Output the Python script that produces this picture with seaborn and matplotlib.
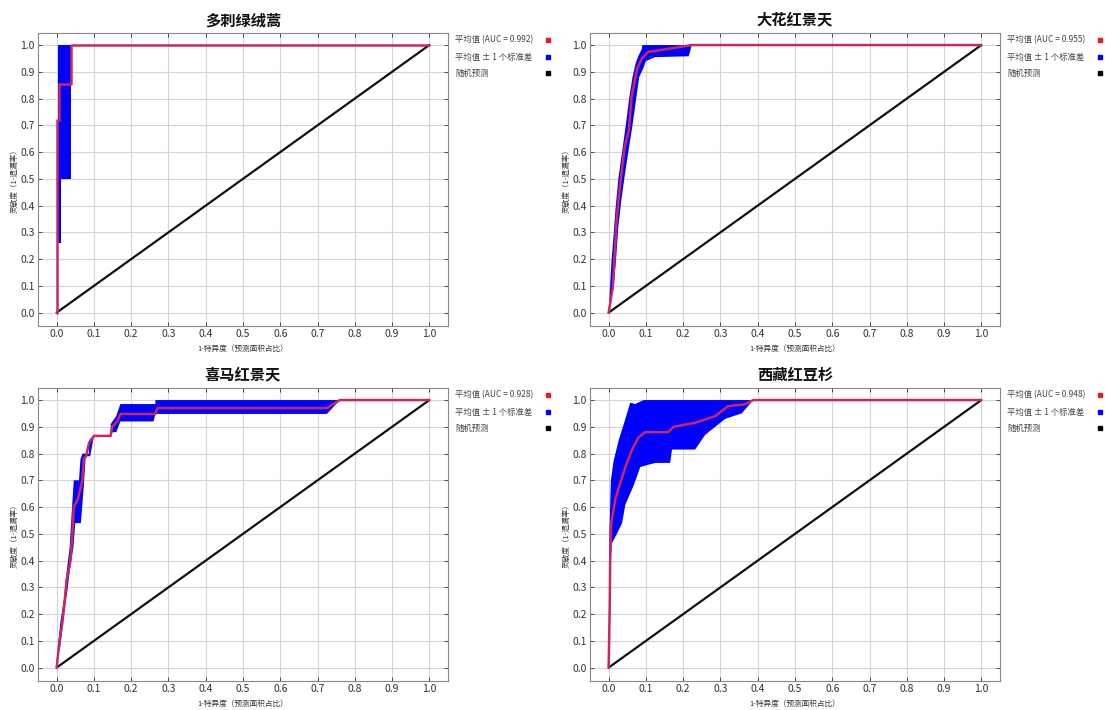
import numpy as np
import matplotlib
matplotlib.use("Agg")
import matplotlib.pyplot as plt
import seaborn as sns

sns.set_theme(style="whitegrid")
plt.rcParams['font.family'] = ['Noto Sans CJK SC', 'DejaVu Sans']
plt.rcParams['axes.unicode_minus'] = False

titles = ["多刺绿绒蒿", "大花红景天", "喜马红景天", "西藏红豆杉"]
aucs = ["0.992", "0.955", "0.928", "0.948"]
xlabel = "1-特异度（预测面积占比）"
ylabel = "灵敏度（1-遗漏率）"
legend_mean = "平均值 (AUC = {})"
legend_std = "平均值 ± 1 个标准差"
legend_rand = "随机预测"
ticks = [0.0, 0.1, 0.2, 0.3, 0.4, 0.5, 0.6, 0.7, 0.8, 0.9, 1.0]
tick_labels = ["0.0", "0.1", "0.2", "0.3", "0.4", "0.5", "0.6", "0.7", "0.8", "0.9", "1.0"]

# Panel 1: 多刺绿绒蒿
mean1_x = [0.0, 0.0, 0.005, 0.005, 0.038, 0.038, 1.0]
mean1_y = [0.0, 0.72, 0.72, 0.855, 0.855, 1.0, 1.0]
up1_x = [0.003, 0.003, 0.038]
up1_y = [0.26, 1.0, 1.0]
lo1_x = [0.038, 0.012, 0.012, 0.003]
lo1_y = [0.5, 0.5, 0.26, 0.26]

# Panel 2: 大花红景天
mean2_x = [0.0, 0.011, 0.022, 0.031, 0.043, 0.054, 0.062, 0.076, 0.089, 0.107, 0.134, 0.223, 1.0]
mean2_y = [0.0, 0.094, 0.356, 0.48, 0.62, 0.68, 0.81, 0.91, 0.95, 0.975, 0.98, 1.0, 1.0]
up2_x = [0.0, 0.004, 0.008, 0.014, 0.018, 0.026, 0.036, 0.046, 0.055, 0.064, 0.072, 0.08, 0.089, 0.09, 0.223]
up2_y = [0.0, 0.1, 0.2, 0.3, 0.38, 0.5, 0.6, 0.7, 0.8, 0.88, 0.93, 0.96, 0.985, 1.0, 1.0]
lo2_x = [0.223, 0.215, 0.13, 0.125, 0.1, 0.092, 0.082, 0.074, 0.064, 0.055, 0.044, 0.034, 0.026, 0.02, 0.014, 0.0]
lo2_y = [1.0, 0.958, 0.955, 0.955, 0.94, 0.91, 0.88, 0.8, 0.7, 0.62, 0.52, 0.42, 0.32, 0.2, 0.1, 0.0]

# Panel 3: 喜马红景天
mean3_x = [0.0, 0.006, 0.015, 0.021, 0.027, 0.036, 0.042, 0.046, 0.057, 0.069, 0.073, 0.079, 0.087,
           0.1, 0.145, 0.149, 0.163, 0.171, 0.265, 0.27, 0.725, 0.76, 1.0]
mean3_y = [0.0, 0.08, 0.166, 0.24, 0.33, 0.39, 0.49, 0.6, 0.63, 0.7, 0.78, 0.79, 0.84,
           0.866, 0.866, 0.9, 0.92, 0.948, 0.948, 0.97, 0.97, 1.0, 1.0]
up3_x = [0.0, 0.005, 0.01, 0.02, 0.027, 0.035, 0.04, 0.046, 0.06, 0.064, 0.07, 0.087, 0.087, 0.1,
         0.145, 0.145, 0.16, 0.171, 0.265, 0.265, 0.76]
up3_y = [0.0, 0.1, 0.17, 0.26, 0.36, 0.45, 0.57, 0.7, 0.7, 0.78, 0.8, 0.8, 0.85, 0.866,
         0.866, 0.91, 0.94, 0.985, 0.985, 1.0, 1.0]
lo3_x = [0.76, 0.725, 0.265, 0.26, 0.171, 0.16, 0.15, 0.145, 0.1, 0.09, 0.078, 0.073, 0.065, 0.05,
         0.045, 0.035, 0.03, 0.02, 0.01, 0.005, 0.0]
lo3_y = [1.0, 0.948, 0.948, 0.92, 0.92, 0.88, 0.88, 0.866, 0.866, 0.79, 0.79, 0.68, 0.54, 0.54,
         0.45, 0.36, 0.3, 0.2, 0.08, 0.05, 0.0]

# Panel 4: 西藏红豆杉
mean4_x = [0.0, 0.003, 0.004, 0.007, 0.018, 0.031, 0.045, 0.063, 0.08, 0.098, 0.16, 0.174,
           0.232, 0.286, 0.32, 0.366, 0.388, 1.0]
mean4_y = [0.0, 0.23, 0.39, 0.54, 0.63, 0.69, 0.75, 0.815, 0.86, 0.88, 0.88, 0.9,
           0.915, 0.94, 0.977, 0.984, 1.0, 1.0]
up4_x = [0.0, 0.002, 0.006, 0.013, 0.027, 0.045, 0.058, 0.071, 0.094, 0.388]
up4_y = [0.0, 0.5, 0.7, 0.77, 0.85, 0.93, 0.99, 0.985, 1.0, 1.0]
lo4_x = [0.388, 0.357, 0.313, 0.259, 0.232, 0.17, 0.165, 0.125, 0.085, 0.067, 0.045, 0.036,
         0.022, 0.009, 0.004, 0.0]
lo4_y = [1.0, 0.95, 0.93, 0.87, 0.815, 0.815, 0.765, 0.765, 0.75, 0.68, 0.61, 0.54,
         0.5, 0.465, 0.39, 0.0]

rand_x = [0.0, 1.0]
rand_y = [0.0, 1.0]

panels = [
    (mean1_x, mean1_y, up1_x, up1_y, lo1_x, lo1_y),
    (mean2_x, mean2_y, up2_x, up2_y, lo2_x, lo2_y),
    (mean3_x, mean3_y, up3_x, up3_y, lo3_x, lo3_y),
    (mean4_x, mean4_y, up4_x, up4_y, lo4_x, lo4_y),
]

MEAN_C = "#c8285f"
BAND_C = "#0000ff"
LEG_COLORS = ["#e02020", BAND_C, "#000000"]

fig = plt.figure(figsize=(11.05, 7.10), dpi=100)
W, H = 1105.0, 710.0
boxes = [(38, 33, 410, 293), (590, 33, 410, 293), (38, 388, 410, 293), (590, 388, 410, 293)]

for i, (mx, my, ux, uy, lx, ly) in enumerate(panels):
    l, t, w, h = boxes[i]
    ax = fig.add_axes([l / W, 1 - (t + h) / H, w / W, h / H])
    ax.set_facecolor("white")
    ax.fill(list(ux) + list(lx), list(uy) + list(ly), color=BAND_C, lw=0, zorder=2)
    sns.lineplot(x=rand_x, y=rand_y, ax=ax, color="#111111", lw=1.6, sort=False,
                 estimator=None, zorder=3)
    sns.lineplot(x=mx, y=my, ax=ax, color=MEAN_C, lw=1.8, sort=False,
                 estimator=None, zorder=4)
    ax.set_xlim(-0.05, 1.05)
    ax.set_ylim(-0.05, 1.045)
    ax.set_xticks(ticks)
    ax.set_xticklabels(tick_labels)
    ax.set_yticks(ticks)
    ax.set_yticklabels(tick_labels)
    ax.tick_params(axis="both", labelsize=7.5, colors="#333333", direction="in",
                   length=3, width=0.6, pad=2.5, top=True, right=True, left=True, bottom=True)
    ax.grid(True, color="#d4d4d4", lw=0.8)
    for s in ax.spines.values():
        s.set_color("#888888")
        s.set_linewidth(0.8)
    ax.set_title(titles[i], fontsize=11, fontweight="bold", pad=6, color="#111111")
    ax.set_xlabel(xlabel, fontsize=5.5, color="#333333", labelpad=4)
    ax.set_ylabel(ylabel, fontsize=5.5, color="#333333", labelpad=1)

    # legend drawn at the right of the axes: text left, square marker right
    labels = [legend_mean.format(aucs[i]), legend_std, legend_rand]
    row_y = [t + 7, t + 24, t + 40]
    for k in range(3):
        yk = 1 - row_y[k] / H
        fig.text((l + w + 7) / W, yk, labels[k], fontsize=6, color="#444444",
                 ha="left", va="center")
        fig.lines.append(plt.Line2D([(l + w + 100) / W], [yk], transform=fig.transFigure,
                                    marker="s", ls="none", color=LEG_COLORS[k],
                                    markersize=3.5))

fig.savefig("out.png", dpi=100, facecolor="white")
